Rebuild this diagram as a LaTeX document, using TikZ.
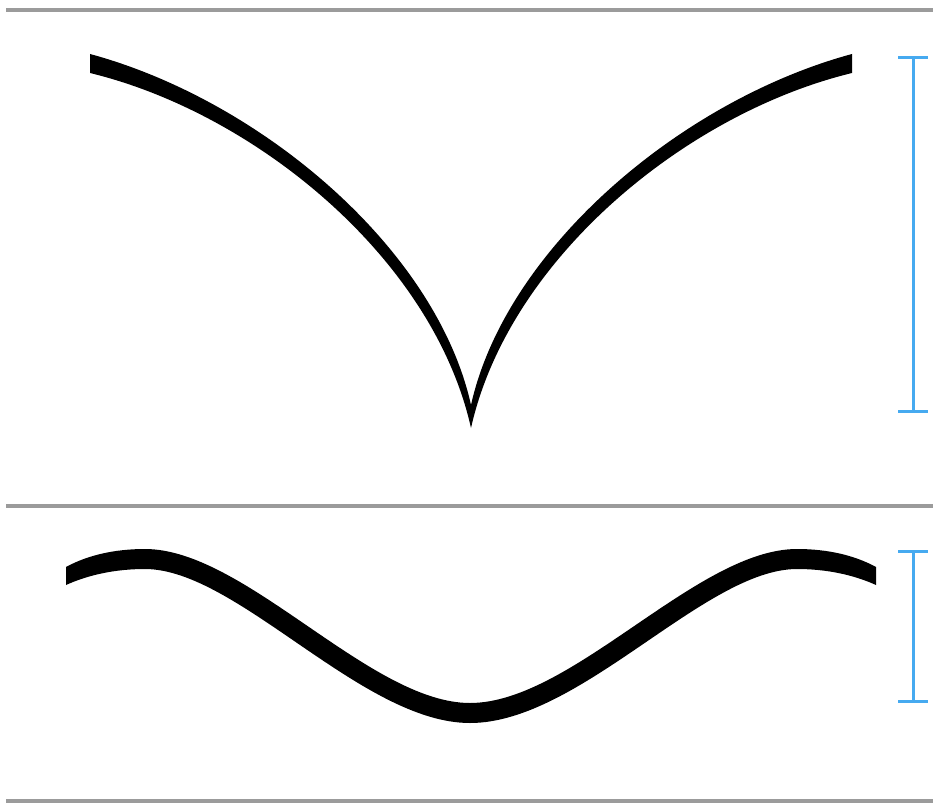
\documentclass[tikz,border=0pt]{standalone}
\definecolor{rulegray}{RGB}{155,155,155}
\definecolor{barblue}{RGB}{70,170,240}
\tikzset{
  rule/.style={draw=rulegray, line width=3.5pt},
  bracket/.style={draw=barblue, line width=3pt},
  inkshape/.style={fill=black, draw=none}
}
\begin{document}
\begin{tikzpicture}[x=1pt,y=-1pt]
\useasboundingbox (0,0) rectangle (933,805);
% horizontal rules
\coordinate (r1a) at (6,10);   \coordinate (r1b) at (933,10);
\coordinate (r2a) at (6,506);  \coordinate (r2b) at (933,506);
\coordinate (r3a) at (6,801);  \coordinate (r3b) at (933,801);
\draw[rule] (r1a) -- (r1b);
\draw[rule] (r2a) -- (r2b);
\draw[rule] (r3a) -- (r3b);
% V-shaped cusp
\fill[inkshape] (90,54) .. controls (260,100) and (436,248) .. (471,405)
  .. controls (506,248) and (682,100) .. (852,54)
  -- (852,73) .. controls (687,113) and (509,258) .. (471,428)
  .. controls (433,258) and (255,113) .. (90,73) -- cycle;
% wave
\fill[inkshape] (66,567) .. controls (88,555) and (115,549) .. (145,549)
  .. controls (245,549) and (370,703) .. (470,703)
  .. controls (572,703) and (697,549) .. (797,549)
  .. controls (827,549) and (854,555) .. (876,567)
  -- (876,585) .. controls (854,575) and (827,569) .. (797,569)
  .. controls (705,569) and (580,723) .. (470,723)
  .. controls (362,723) and (237,569) .. (145,569)
  .. controls (115,569) and (88,575) .. (66,585) -- cycle;
% brackets
\coordinate (b1t) at (913,58); \coordinate (b1b) at (913,411);
\coordinate (b2t) at (913,551); \coordinate (b2b) at (913,701);
\draw[bracket] (b1t) -- (b1b);
\draw[bracket] ([xshift=-15]b1t) -- ([xshift=15]b1t);
\draw[bracket] ([xshift=-15]b1b) -- ([xshift=15]b1b);
\draw[bracket] (b2t) -- (b2b);
\draw[bracket] ([xshift=-15]b2t) -- ([xshift=15]b2t);
\draw[bracket] ([xshift=-15]b2b) -- ([xshift=15]b2b);
\end{tikzpicture}
\end{document}
